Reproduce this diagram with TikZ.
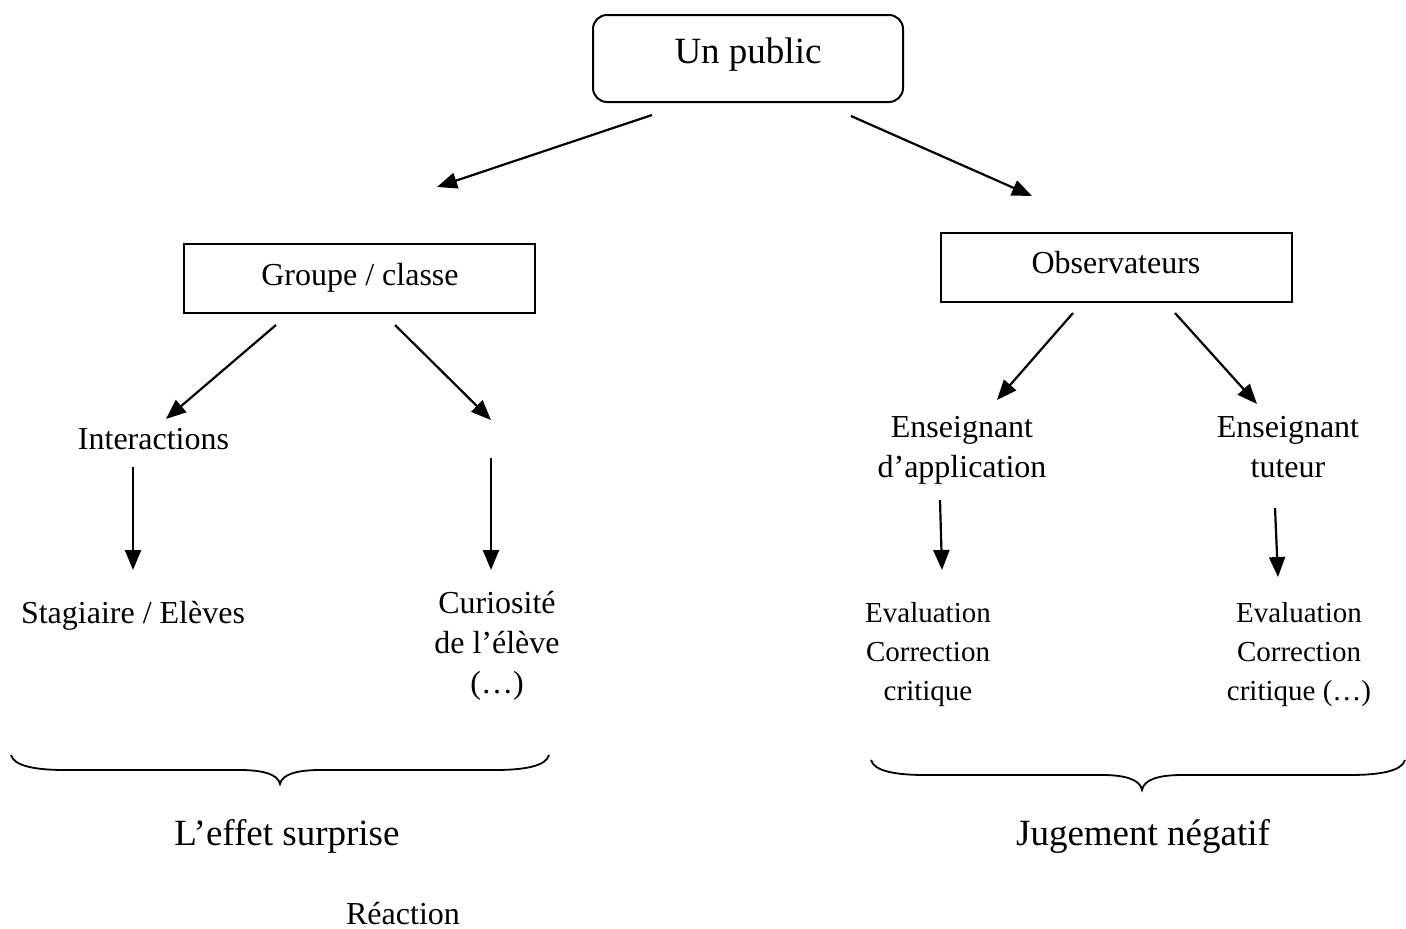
\documentclass[tikz,border=0pt]{standalone}
\usepackage{fontspec}
\setmainfont{Liberation Serif}
\usetikzlibrary{arrows.meta}
\begin{document}
\begin{tikzpicture}[x=1pt,y=-1pt,
  txt/.style={inner sep=0pt,anchor=base,align=center,font=\fontsize{32}{40}\selectfont},
  big/.style={txt,font=\fontsize{37}{44}\selectfont},
  sml/.style={txt,font=\fontsize{29}{39}\selectfont},
  boxe/.style={draw,line width=2pt,inner sep=0pt},
  arr/.style={line width=2.2pt,-{Triangle[length=20pt,width=16pt]}}]
\useasboundingbox (0,0) rectangle (1406,929);
% boxes
\node[boxe,rounded corners=14pt,minimum width=310pt,minimum height=87pt] (pubbox) at (748,58.5) {};
\node[big] (pub) at (748,63) {Un public};
\node[boxe,minimum width=351pt,minimum height=69pt] (grpbox) at (359.5,278.5) {};
\node[txt] (grp) at (360,285) {Groupe / classe};
\node[boxe,minimum width=351pt,minimum height=69pt] (obsbox) at (1116.5,267.5) {};
\node[txt] (obs) at (1116,273) {Observateurs};
% texts (multi-line nodes: base = last line)
\node[txt] (inter) at (153.5,449) {Interactions};
\node[txt] (stag) at (133,623) {Stagiaire / Elèves};
\node[txt] (curio) at (497,693) {Curiosité\\de l’élève\\(…)};
\node[txt] (ensapp) at (962,477) {Enseignant\\d’application};
\node[txt] (enstut) at (1288,477) {Enseignant\\tuteur};
\node[sml] (eval1) at (928,700) {Evaluation\\Correction\\critique};
\node[sml] (eval2) at (1299,700) {Evaluation\\Correction\\critique (…)};
\node[big] (effet) at (287,845) {L’effet surprise};
\node[big] (jug) at (1143,845) {Jugement négatif};
\node[txt] (reac) at (403,924) {Réaction};
% arrow ends
\coordinate (p1) at (652,115); \coordinate (q1) at (437,187);
\coordinate (p2) at (851,116); \coordinate (q2) at (1032,196);
\coordinate (p3) at (276,325); \coordinate (q3) at (166,419);
\coordinate (p4) at (395,325); \coordinate (q4) at (491,420);
\coordinate (p5) at (133,467); \coordinate (q5) at (133,570);
\coordinate (p6) at (491,458); \coordinate (q6) at (491,570);
\coordinate (p7) at (1073,313); \coordinate (q7) at (997,400);
\coordinate (p8) at (1175,313); \coordinate (q8) at (1257,404);
\coordinate (p9) at (940,500); \coordinate (q9) at (942,570);
\coordinate (p10) at (1275,508); \coordinate (q10) at (1278,577);
\foreach \i in {1,...,10} {\draw[arr] (p\i) -- (q\i);}
% braces
\draw[line width=1.8pt] (11,755) .. controls (14,766) and (35,770) .. (65,770) -- (240,770)
  .. controls (262,770) and (278,774) .. (280,784)
  .. controls (282,774) and (298,770) .. (320,770) -- (495,770)
  .. controls (525,770) and (546,766) .. (549,755);
\draw[line width=1.8pt] (871,760) .. controls (874,771) and (895,775) .. (925,775) -- (1102,775)
  .. controls (1124,775) and (1140,779) .. (1142,790)
  .. controls (1144,779) and (1160,775) .. (1182,775) -- (1350,775)
  .. controls (1380,775) and (1402,771) .. (1405,760);
\end{tikzpicture}
\end{document}
